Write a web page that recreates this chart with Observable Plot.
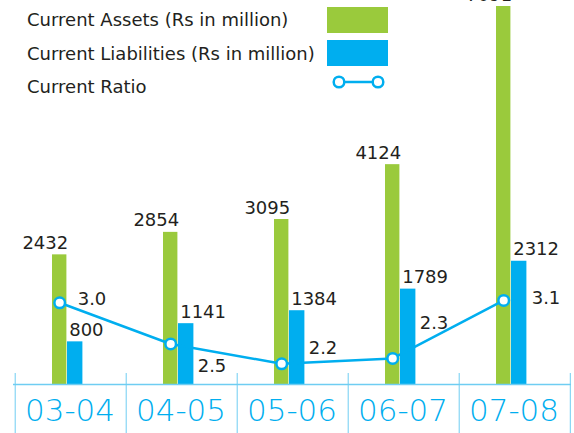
<!DOCTYPE html>
<html>
<head>
<meta charset="utf-8">
<script src="https://cdn.jsdelivr.net/npm/d3@7"></script>
<script src="https://cdn.jsdelivr.net/npm/@observablehq/plot@0.6"></script>
<style>
  html, body { margin: 0; padding: 0; background: #fff; }
  #wrap { position: relative; width: 574px; height: 433px; overflow: hidden; }
  #legend { position: absolute; left: 0; top: 0; }
  #chart svg { display: block; }
</style>
</head>
<body>
<div id="wrap">
  <div id="chart"></div>
  <svg id="legend" width="574" height="110"></svg>
</div>
<script>
// ---- data ----
const years = ["03-04", "04-05", "05-06", "06-07", "07-08"];
const currentAssets = [2432, 2854, 3095, 4124, 7091];
const currentLiabilities = [800, 1141, 1384, 1789, 2312];
const currentRatio = [3.04, 2.50, 2.24, 2.31, 3.07];
const legendLabels = ["Current Assets (Rs in million)", "Current Liabilities (Rs in million)", "Current Ratio"];

// ---- styling / layout ----
const GREEN = "#9aca3c";
const BLUE = "#00aeef";
const AXIS = "#6fcdf2";
const TEXT = "#231f20";
const FONT = "DejaVu Sans";
const W = 574, H = 433;
const mL = 13, mR = 3;
const bw = (W - mL - mR) / years.length;
// label nudges for the ratio labels (dx, dy) relative to their points
const ratioNudge = [[18, 2], [27, 28], [27, -10], [27, -29], [28, 4]];

// secondary (ratio) axis expressed in the primary value units
const r2v = d3.scaleLinear().domain([2, 3]).range([45, 1476]);

const rows = years.map((y, i) => ({
  year: y,
  assets: currentAssets[i],
  liab: currentLiabilities[i],
  ratio: currentRatio[i],
  rv: r2v(currentRatio[i]),
  ndx: ratioNudge[i][0],
  ndy: ratioNudge[i][1]
}));

const greenL = 37, greenR = 52, blueR = 68;
const gCenter = (greenL + greenR) / 2 - bw / 2;

const marks = [
  // bars
  Plot.barY(rows, {x: "year", y: "assets", fill: GREEN, insetLeft: greenL, insetRight: bw - greenR}),
  Plot.barY(rows, {x: "year", y: "liab", fill: BLUE, insetLeft: greenR, insetRight: bw - blueR}),
  // baseline and dividers
  Plot.ruleY([0], {stroke: AXIS, strokeWidth: 1.5}),
  Plot.ruleX(years, {x: d => d, y1: 0, y2: 0, dx: -bw / 2, insetTop: -11, insetBottom: -60, stroke: AXIS, strokeWidth: 1}),
  Plot.ruleX([years[years.length - 1]], {x: d => d, y1: 0, y2: 0, dx: bw / 2 - 0.5, insetTop: -11, insetBottom: -60, stroke: AXIS, strokeWidth: 1}),
  // category labels
  Plot.text(years, {x: d => d, y: 0, text: d => d, dx: -1, dy: 36, lineAnchor: "bottom", fill: BLUE,
    fontSize: 31, fontWeight: 200, fontFamily: FONT}),
  // value labels
  Plot.text(rows, {x: "year", y: "assets", text: d => String(d.assets), dx: greenR - bw / 2 + 1, dy: -6,
    textAnchor: "end", lineAnchor: "bottom", fill: TEXT, fontSize: 18, fontFamily: FONT}),
  Plot.text(rows, {x: "year", y: "liab", text: d => String(d.liab), dx: greenR - bw / 2 + 2, dy: -6,
    textAnchor: "start", lineAnchor: "bottom", fill: TEXT, fontSize: 18, fontFamily: FONT}),
  // ratio line
  Plot.line(rows, {x: "year", y: "rv", stroke: BLUE, strokeWidth: 2.5, dx: gCenter}),
  Plot.dot(rows, {x: "year", y: "rv", r: 5.3, stroke: BLUE, strokeWidth: 2.5, fill: "white", dx: gCenter}),
  ...rows.map(d => Plot.text([d], {x: "year", y: "rv", text: r => r.ratio.toFixed(1),
    dx: gCenter + d.ndx, dy: d.ndy, textAnchor: "start", lineAnchor: "bottom",
    fill: TEXT, fontSize: 18, fontFamily: FONT}))
];

const chart = Plot.plot({
  width: W,
  height: H,
  marginLeft: mL,
  marginRight: mR,
  marginTop: 6,
  marginBottom: 49,
  x: {type: "band", domain: years, padding: 0, axis: null},
  y: {domain: [0, 7091], axis: null},
  style: {background: "white", overflow: "visible"},
  marks
});
document.getElementById("chart").append(chart);

// ---- legend (overlay) ----
const lg = d3.select("#legend");
const base = [26, 60, 93];
legendLabels.forEach((t, i) => {
  lg.append("text").attr("x", 27).attr("y", base[i]).text(t)
    .attr("fill", TEXT).attr("font-family", FONT).attr("font-size", 18);
});
lg.append("rect").attr("x", 327).attr("y", 7).attr("width", 61).attr("height", 26).attr("fill", GREEN);
lg.append("rect").attr("x", 327).attr("y", 40).attr("width", 61).attr("height", 26).attr("fill", BLUE);
lg.append("line").attr("x1", 339).attr("x2", 378).attr("y1", 82).attr("y2", 82).attr("stroke", BLUE).attr("stroke-width", 2.5);
[339, 378].forEach(cx => lg.append("circle").attr("cx", cx).attr("cy", 82).attr("r", 5.3)
  .attr("fill", "white").attr("stroke", BLUE).attr("stroke-width", 2.5));
</script>
</body>
</html>
